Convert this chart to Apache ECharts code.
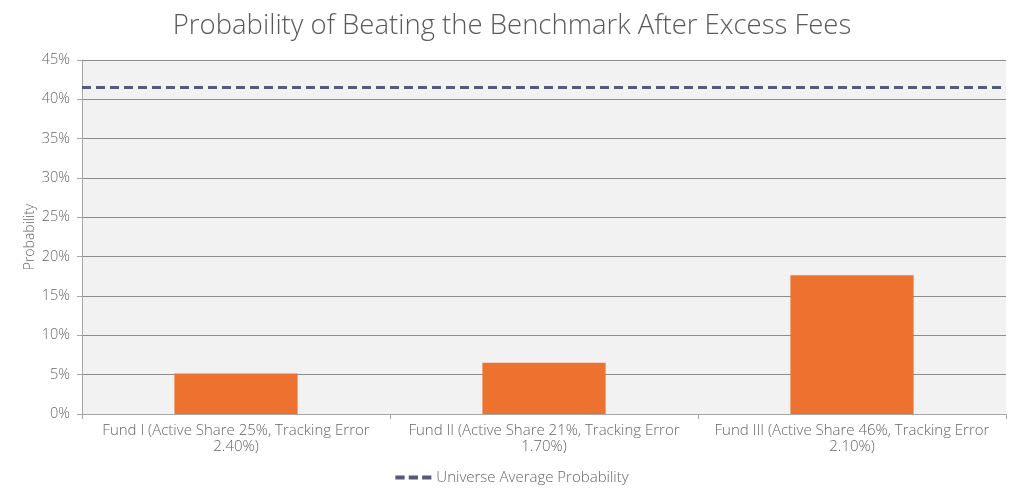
<!DOCTYPE html>
<html><head><meta charset="utf-8">
<script src="https://cdn.jsdelivr.net/npm/echarts@6/dist/echarts.min.js"></script>
<style>html,body{margin:0;padding:0;background:#fff}#c{width:1024px;height:499px}</style>
</head><body><div id="c"></div>
<script>
const categories = [
  "Fund I (Active Share 25%, Tracking Error 2.40%)",
  "Fund II (Active Share 21%, Tracking Error 1.70%)",
  "Fund III (Active Share 46%, Tracking Error 2.10%)"
];
const probability = [5.15, 6.5, 17.65];
const universeAverage = 41.5;
const universeLine = [[0, universeAverage], [1, universeAverage]];
const yTicks = { min: 0, max: 45, interval: 5 };

const chart = echarts.init(document.getElementById('c'));
const txt = '#666666';
const font = '"Open Sans", Lato, sans-serif';
chart.setOption({
  animation: false,
  title: {
    text: 'Probability of Beating the Benchmark After Excess Fees',
    left: 'center', top: 7,
    textStyle: { fontSize: 27.5, fontWeight: 300, color: '#5a5a5a', fontFamily: font }
  },
  legend: {
    bottom: 9, left: 'center',
    itemWidth: 36, itemHeight: 5, itemGap: 6,
    textStyle: { fontSize: 15, color: txt, fontFamily: font, fontWeight: 300 },
    data: [{
      name: 'Universe Average Probability',
      icon: 'path://M0,0H9V4H0Z M13,0H22V4H13Z M26,0H35V4H26Z'
    }]
  },
  grid: {
    left: 82, right: 18, top: 60, bottom: 85,
    show: true, backgroundColor: '#f2f2f2', borderWidth: 0
  },
  xAxis: [{
    type: 'category', data: categories,
    axisLine: { lineStyle: { color: '#a6a6a6', width: 1 } },
    axisTick: { show: true, length: 5, lineStyle: { color: '#a6a6a6' } },
    axisLabel: {
      interval: 0,
      color: txt, fontSize: 15, fontFamily: font, lineHeight: 16, margin: 9, fontWeight: 300,
      formatter: v => v.replace(/ (\S+)$/, '\n$1')
    }
  }, {
    type: 'value', min: 0, max: 1, show: false
  }],
  yAxis: {
    type: 'value', min: yTicks.min, max: yTicks.max, interval: yTicks.interval,
    name: 'Probability', nameLocation: 'middle', nameGap: 45, nameMoveOverlap: false,
    nameTextStyle: { color: txt, fontSize: 14, fontFamily: font, fontWeight: 300 },
    axisLine: { show: true, lineStyle: { color: '#a6a6a6' } },
    axisTick: { show: true, length: 5, lineStyle: { color: '#a6a6a6' } },
    axisLabel: { color: txt, fontSize: 14.5, fontFamily: font, fontWeight: 300, formatter: '{value}%', margin: 12 },
    splitLine: { lineStyle: { color: '#8c8c8c', width: 1.2 } }
  },
  series: [{
    type: 'bar', name: 'Probability', data: probability,
    barWidth: '40%', itemStyle: { color: '#ed7230' }
  }, {
    type: 'line', name: 'Universe Average Probability',
    xAxisIndex: 1, data: universeLine, symbol: 'none',
    lineStyle: { color: '#555a7a', width: 3, type: [9, 5] },
    itemStyle: { color: '#555a7a' }
  }]
});
</script></body></html>
